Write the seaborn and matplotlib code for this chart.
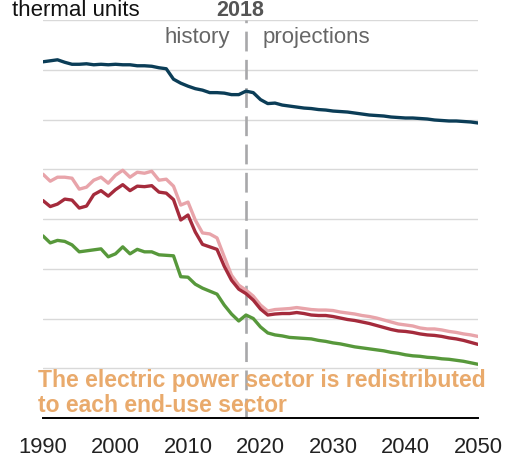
import numpy as np
import pandas as pd
import matplotlib
matplotlib.use('Agg')
import matplotlib.pyplot as plt
import seaborn as sns

# values (one gridline = 1 unit)
years = list(range(1990, 2051))

dark_blue = [7.16, 7.18, 7.20, 7.15, 7.11, 7.11, 7.12, 7.10, 7.11, 7.10,
             7.11, 7.10, 7.10, 7.08, 7.08, 7.07, 7.04, 7.02, 6.81, 6.73,
             6.67, 6.62, 6.59, 6.54, 6.54, 6.53, 6.50, 6.50, 6.57, 6.54,
             6.40, 6.32, 6.33, 6.29, 6.27, 6.25, 6.23, 6.22, 6.20, 6.19,
             6.17, 6.16, 6.15, 6.13, 6.11, 6.09, 6.08, 6.07, 6.05, 6.04,
             6.03, 6.03, 6.02, 6.01, 5.99, 5.98, 5.97, 5.97, 5.96, 5.95,
             5.93]

pink = [4.90, 4.76, 4.84, 4.84, 4.82, 4.60, 4.64, 4.78, 4.84, 4.72,
        4.88, 4.98, 4.84, 4.94, 4.92, 4.96, 4.78, 4.80, 4.66, 4.28,
        4.34, 3.98, 3.72, 3.70, 3.62, 3.24, 2.87, 2.67, 2.57, 2.45,
        2.27, 2.15, 2.18, 2.19, 2.20, 2.22, 2.20, 2.18, 2.17, 2.17,
        2.16, 2.13, 2.11, 2.09, 2.06, 2.04, 2.01, 1.97, 1.93, 1.89,
        1.87, 1.85, 1.81, 1.79, 1.79, 1.77, 1.74, 1.72, 1.69, 1.67,
        1.64]

dark_red = [4.37, 4.25, 4.30, 4.40, 4.38, 4.22, 4.26, 4.49, 4.57, 4.46,
            4.59, 4.69, 4.57, 4.66, 4.65, 4.67, 4.54, 4.52, 4.39, 3.98,
            4.08, 3.74, 3.49, 3.44, 3.39, 3.05, 2.77, 2.59, 2.50, 2.37,
            2.19, 2.07, 2.09, 2.10, 2.10, 2.12, 2.10, 2.07, 2.06, 2.06,
            2.04, 2.01, 1.98, 1.96, 1.93, 1.90, 1.86, 1.82, 1.78, 1.75,
            1.74, 1.72, 1.69, 1.67, 1.66, 1.64, 1.61, 1.59, 1.56, 1.52,
            1.48]

green = [3.66, 3.52, 3.57, 3.55, 3.48, 3.34, 3.36, 3.38, 3.40, 3.24,
         3.30, 3.44, 3.30, 3.39, 3.34, 3.34, 3.28, 3.27, 3.26, 2.84,
         2.83, 2.69, 2.61, 2.55, 2.49, 2.27, 2.09, 1.95, 2.07, 2.00,
         1.83, 1.71, 1.67, 1.65, 1.62, 1.61, 1.60, 1.59, 1.56, 1.54,
         1.51, 1.49, 1.46, 1.43, 1.41, 1.39, 1.37, 1.35, 1.32, 1.30,
         1.27, 1.25, 1.24, 1.22, 1.21, 1.19, 1.18, 1.16, 1.14, 1.11,
         1.08]

series_names = ['dark_blue', 'pink', 'dark_red', 'green']
colors = ['#0b3d57', '#e8a4aa', '#a52b3c', '#57983b']
x_ticks = [1990, 2000, 2010, 2020, 2030, 2040, 2050]
split_year = 2018

df = pd.DataFrame({
    'year': years * 4,
    'value': dark_blue + pink + dark_red + green,
    'series': sum([[n] * len(years) for n in series_names], []),
})

sns.set_style('white')
plt.rcParams['font.family'] = ['Liberation Sans', 'DejaVu Sans']

fig = plt.figure(figsize=(5.08, 4.57), dpi=100)
ax = fig.add_axes([43 / 508, 1 - 418 / 457, 435 / 508, 398 / 457])

for y in range(1, 9):
    ax.axhline(y, color='#d9d9d9', lw=1.0, zorder=0)

ax.axvline(split_year, color='#a8a8aa', lw=1.9, dashes=(7.5, 3.2), zorder=1)

sns.lineplot(data=df, x='year', y='value', hue='series', hue_order=series_names,
             palette=colors, lw=2.4, legend=False, ax=ax, zorder=3)

ax.set_xlim(1990, 2050)
ax.set_ylim(0, 8)
ax.set_xticks(x_ticks)
ax.set_xticklabels([str(t) for t in x_ticks], fontsize=15.8, color='#222222')
ax.set_yticks([])
ax.set_xlabel('')
ax.set_ylabel('')
for s in ['left', 'right', 'top']:
    ax.spines[s].set_visible(False)
ax.spines['bottom'].set_color('black')
ax.spines['bottom'].set_linewidth(1.4)
ax.tick_params(axis='x', direction='out', length=6, width=1.4, color='black', pad=8)

ax.annotate('history', xy=(split_year, 7.54), xytext=(-16, 0), textcoords='offset pixels',
            ha='right', va='baseline', fontsize=16, color='#666666')
ax.annotate('projections', xy=(split_year, 7.54), xytext=(17, 0), textcoords='offset pixels',
            ha='left', va='baseline', fontsize=16, color='#666666')

fig.text(240 / 508, 1 - 15.5 / 457, '2018', ha='center', va='baseline',
         fontsize=15.5, fontweight='bold', color='#555555')
fig.text(12 / 508, 1 - 16 / 457, 'thermal units', ha='left', va='baseline',
         fontsize=16, color='#111111')

note_color = '#e9aa6c'
fig.text(38 / 508, 1 - 387 / 457, 'The electric power sector is redistributed',
         ha='left', va='baseline', fontsize=16.5, fontweight='bold', color=note_color, zorder=5)
fig.text(38 / 508, 1 - 412 / 457, 'to each end-use sector',
         ha='left', va='baseline', fontsize=16.5, fontweight='bold', color=note_color, zorder=5)

fig.savefig('out.png', dpi=100)
